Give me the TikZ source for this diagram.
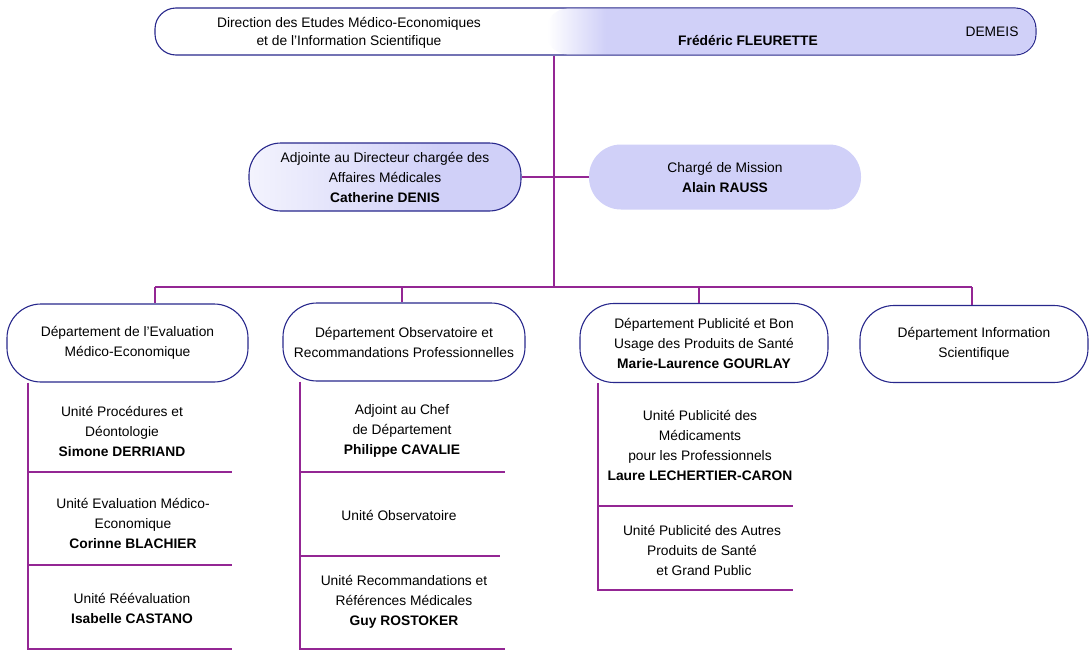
\documentclass[tikz,border=0pt]{standalone}
\usepackage{fontspec}
\setmainfont{Liberation Sans}
\begin{document}
\definecolor{lav}{RGB}{208,208,248}
\definecolor{navy}{RGB}{40,40,140}
\definecolor{plum}{RGB}{148,38,148}
% quick white-to-lavender fade at the left end, then flat lavender
\pgfdeclarehorizontalshading{lavfade}{100bp}{color(0bp)=(white); color(25bp)=(white); color(31bp)=(lav); color(100bp)=(lav)}
% slower fade for the deputy box
\pgfdeclarehorizontalshading{adjfade}{100bp}{color(0bp)=(white); color(25bp)=(white!75!lav); color(60bp)=(lav); color(100bp)=(lav)}
\begin{tikzpicture}[x=1pt,y=-1pt,
  every node/.style={font=\fontsize{13.8}{20}\selectfont, align=center, inner sep=0pt},
  box/.style={draw=navy, line width=1.1pt, fill=white, rounded corners=#1},
  box/.default=34pt,
  link/.style={draw=plum, line width=1.1pt},
  txt/.style={text=black}]
\useasboundingbox (0,0) rectangle (1090,651);

% --- director
\node[box=21pt, minimum width=881pt, minimum height=47pt] (top) at (595.5,31.5) {};
\node[shading=lavfade, rounded corners=20pt, minimum width=488pt, minimum height=45.6pt] (topfill) at (791.2,31.5) {};
\node[txt, font=\fontsize{13.8}{18}\selectfont] (dirname) at (349,33) {Direction des Etudes Médico-Economiques\\et de l’Information Scientifique};
\node[txt] (dirhead) at (748,41) {\textbf{Frédéric FLEURETTE}};
\node[txt] (dirabbr) at (992,32) {DEMEIS};

% --- staff level
\node[box=32pt, shading=adjfade, minimum width=272pt, minimum height=68pt] (adj) at (385,177) {Adjointe au Directeur chargée des\\Affaires Médicales\\\textbf{Catherine DENIS}};
\node[fill=lav, rounded corners=32pt, minimum width=272pt, minimum height=65pt] (chg) at (725,177) {Chargé de Mission\\\textbf{Alain RAUSS}};

% --- departments
\node[box, minimum width=241pt, minimum height=78pt] (d1) at (127.5,343) {Département de l’Evaluation\\Médico-Economique};
\node[box, minimum width=242pt, minimum height=78pt] (d2) at (404,342) {Département Observatoire et\\Recommandations Professionnelles};
\node[box, minimum width=248pt, minimum height=79pt] (d3) at (704,343) {Département Publicité et Bon\\Usage des Produits de Santé\\\textbf{Marie-Laurence GOURLAY}};
\node[box, minimum width=228pt, minimum height=77pt] (d4) at (974,344) {Département Information\\Scientifique};

% --- units
\node[txt] (u11) at (122,431) {Unité Procédures et\\Déontologie\\\textbf{Simone DERRIAND}};
\node[txt] (u12) at (133,523) {Unité Evaluation Médico-\\Economique\\\textbf{Corinne BLACHIER}};
\node[txt] (u13) at (132,608) {Unité Réévaluation\\\textbf{Isabelle CASTANO}};
\node[txt] (u21) at (402,431) {Adjoint au Chef\\de Département\\\textbf{Philippe CAVALIE}};
\node[txt] (u22) at (399,515) {Unité Observatoire};
\node[txt] (u23) at (404,602) {Unité Recommandations et\\Références Médicales\\\textbf{Guy ROSTOKER}};
\node[txt] (u31) at (700,445) {Unité Publicité des\\Médicaments\\pour les Professionnels\\\textbf{Laure LECHERTIER-CARON}};
\node[txt] (u32) at (702,550) {Unité Publicité des Autres\\Produits de Santé\\\ et Grand Public};

% --- junction points
\coordinate (trunk) at (554,287);
\coordinate (b1) at (155,287);
\coordinate (b2) at (402,287);
\coordinate (b3) at (699,287);
\coordinate (b4) at (972,287);
\coordinate (c1) at (28,649);   \coordinate (e1) at (232,649);
\coordinate (c2) at (300,649);  \coordinate (e2) at (505,649);
\coordinate (c3) at (598,590);  \coordinate (e3) at (793,590);
\coordinate (s11) at (232,472); \coordinate (s12) at (232,565);
\coordinate (s21) at (505,472); \coordinate (s22) at (500,556);
\coordinate (s31) at (793,506);

% --- connectors
\draw[link] (trunk |- top.south) -- (trunk);
\draw[link] (adj.east) -- (chg.west);
\draw[link] (b1) -- (b4);
\draw[link] (b1) -- (b1 |- d1.north);
\draw[link] (b2) -- (b2 |- d2.north);
\draw[link] (b3) -- (b3 |- d3.north);
\draw[link] (b4) -- (b4 |- d4.north);

\draw[link] (c1 |- d1.south) -- (c1) -- (e1);
\draw[link] (c1 |- s11) -- (s11);
\draw[link] (c1 |- s12) -- (s12);
\draw[link] (c2 |- d2.south) -- (c2) -- (e2);
\draw[link] (c2 |- s21) -- (s21);
\draw[link] (c2 |- s22) -- (s22);
\draw[link] (c3 |- d3.south) -- (c3) -- (e3);
\draw[link] (c3 |- s31) -- (s31);
\end{tikzpicture}
\end{document}
